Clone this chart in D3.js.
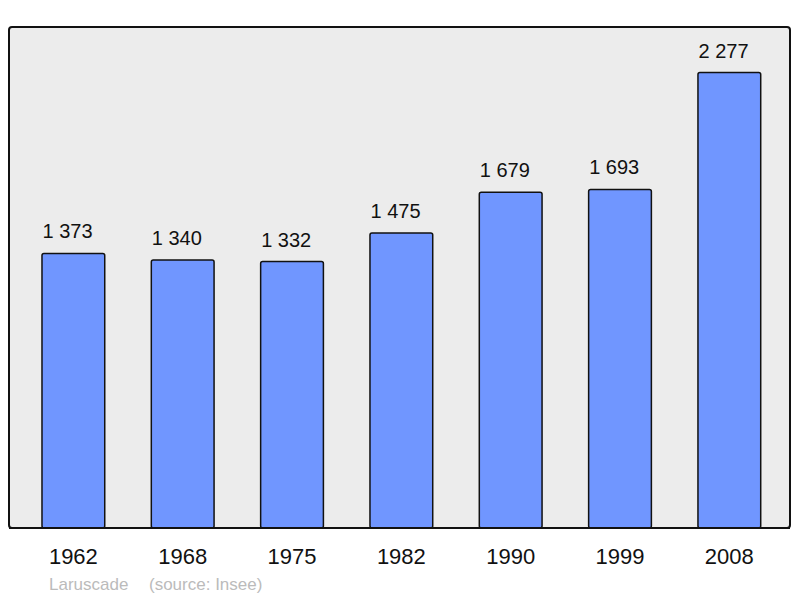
<!DOCTYPE html>
<html>
<head>
<meta charset="utf-8">
<script src="https://cdn.jsdelivr.net/npm/d3@7"></script>
<style>
html,body{margin:0;padding:0;background:#fff;}
svg{display:block;font-family:"Liberation Sans",Arial,sans-serif;}
</style>
</head>
<body>
<svg id="chart" width="800" height="598"></svg>
<script>
const years = ["1962","1968","1975","1982","1990","1999","2008"];
const population = [1373,1340,1332,1475,1679,1693,2277];
const commune = "Laruscade";
const source = "(source: Insee)";

const svg = d3.select("#chart");
const frame = {x0:9, y0:27, x1:790, y1:528};

svg.append("rect")
  .attr("x",frame.x0).attr("y",frame.y0)
  .attr("width",frame.x1-frame.x0).attr("height",frame.y1-frame.y0)
  .attr("rx",3).attr("ry",3)
  .attr("fill","#ececec").attr("stroke","#111").attr("stroke-width",2);

const x = d3.scaleBand().domain(years).range([18.7,784]).paddingInner(0.426).paddingOuter(0.213);
const y = d3.scaleLinear().domain([0,2500]).range([528,28]);

const fmt = v => d3.format(",")(v).replace(/,/g," ");

svg.selectAll("rect.bar").data(years).enter().append("rect")
  .attr("class","bar")
  .attr("x",d=>x(d)).attr("width",x.bandwidth())
  .attr("y",(d,i)=>y(population[i]))
  .attr("height",(d,i)=>y(0)-y(population[i]))
  .attr("rx",2).attr("ry",2)
  .attr("fill","#7096ff").attr("stroke","#111").attr("stroke-width",1.5);

svg.selectAll("text.val").data(years).enter().append("text")
  .attr("class","val")
  .attr("x",d=>x(d)+0.5)
  .attr("y",(d,i)=>y(population[i])-15)
  .attr("text-anchor","start")
  .attr("font-size",20).attr("fill","#111")
  .text((d,i)=>fmt(population[i]));

svg.append("line").attr("x1",frame.x0).attr("x2",frame.x1).attr("y1",frame.y1).attr("y2",frame.y1)
  .attr("stroke","#111").attr("stroke-width",2);

const xAxis = d3.axisBottom(x).tickSize(0).tickPadding(0);
const ax = svg.append("g").attr("transform","translate(0,528)").call(xAxis);
ax.select(".domain").remove();
ax.selectAll("text").attr("font-size",22).attr("fill","#111")
  .attr("font-family","Liberation Sans, Arial, sans-serif")
  .attr("dy",null).attr("y",36);

svg.append("text").attr("x",49).attr("y",590).attr("font-size",17).attr("fill","#bbb").text(commune);
svg.append("text").attr("x",149).attr("y",590).attr("font-size",17).attr("fill","#bbb").text(source);
</script>
</body>
</html>
